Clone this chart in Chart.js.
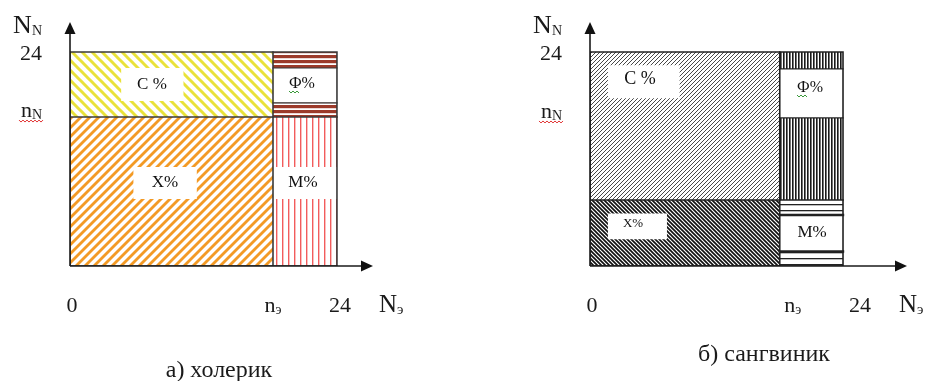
<!DOCTYPE html>
<html><head><meta charset="utf-8">
<script src="https://cdn.jsdelivr.net/npm/chart.js@4"></script>
<style>
html,body{margin:0;padding:0;background:#fff;width:929px;height:381px;overflow:hidden}
canvas{position:absolute;left:0;top:0}
</style></head>
<body>
<canvas id="c1" width="929" height="381"></canvas>
<canvas id="c2" width="929" height="381"></canvas>
<script>
// ---------------- data ----------------
const panelTitles = ['а) холерик', 'б) сангвиник'];
const regionNames = ['С %', 'Х%', 'Ф%', 'М%'];
const axisMaxN = [24, 24];        // N_э = N_N = 24
const nE = [18.25, 18.0];         // n_э (split of the N_э axis)
const splitLeft = [16.7, 7.4];    // С / Х boundary, column 0..n_э
const splitRight = [16.7, 7.4];   // Ф / М boundary, column n_э..24
const nNTick = [16.7, 16.6];      // n_N tick value
const xTickLabels = ['0', 'n|э', '24'];
const yTickLabels = ['24', 'n|N'];
const xAxisTitle = 'N|э';
const yAxisTitle = 'N|N';

// ---------------- layout / style ----------------
function stripe(kind, color, p, w) {
  const c = document.createElement('canvas');
  c.width = p; c.height = p;
  const g = c.getContext('2d');
  g.fillStyle = '#fff'; g.fillRect(0, 0, p, p);
  g.strokeStyle = color; g.fillStyle = color; g.lineWidth = w;
  if (kind === 'down') {
    for (let k = -2; k <= 2; k++) { g.beginPath(); g.moveTo(k*p - p, -p); g.lineTo(k*p + 2*p, 2*p); g.stroke(); }
  } else if (kind === 'up') {
    for (let k = -2; k <= 2; k++) { g.beginPath(); g.moveTo(k*p - p, 2*p); g.lineTo(k*p + 2*p, -p); g.stroke(); }
  } else if (kind === 'vert') {
    g.fillRect(0, 0, w, p);
  } else if (kind === 'horiz') {
    g.fillRect(0, 0, p, w);
  }
  return g.createPattern(c, 'repeat');
}

const panelStyle = [
  {
    pad: {left: 70, top: 22, right: 556, bottom: 115},
    xMax: 27.24, yMax: 27.36,
    fills: [stripe('down', '#e9e23a', 10, 3.0), stripe('up', '#f39a25', 9, 2.8),
            stripe('horiz', '#9c3a2a', 5, 3.2), stripe('vert', '#f25c5c', 6, 1.4)],
    edge: '#3a3a3a',
    boxes: {С: [4.6, 10.2, 18.5, 22.2], Х: [5.7, 11.4, 7.5, 11.1], Ф: [null, null, 18.3, 22.2], М: [null, null, 7.5, 11.1]},
    boxLines: {Ф: 1.2, М: 0},
    text: {С: [7.37, 20.4, 17], Х: [8.54, 9.31, 17], Ф: [20.85, 20.4, 16], М: [20.94, 9.31, 17]},
    xLabOff: [2, 0, 3],
    caption: [219, 377],
    wavyF: [289, 91]
  },
  {
    pad: {left: 590, top: 22, right: 22, bottom: 115},
    xMax: 30.07, yMax: 27.36,
    fills: [stripe('up', '#333', 4, 0.9), stripe('down', '#111', 4, 1.7),
            stripe('vert', '#1a1a1a', 3, 1.6), stripe('horiz', '#222', 6, 1.3)],
    edge: '#222',
    boxes: {С: [1.7, 8.5, 18.8, 22.5], Х: [1.7, 7.3, 3.0, 5.9], Ф: [null, null, 16.6, 22.1], М: [null, null, 1.63, 5.72]},
    boxLines: {Ф: 1.2, М: 2.4},
    text: {С: [4.74, 20.97, 18], Х: [4.08, 4.71, 13], Ф: [20.87, 19.96, 16], М: [21.06, 3.70, 17]},
    xLabOff: [2, 13, 17],
    caption: [764, 361],
    wavyF: [797, 95]
  }
];

function rectPts(x0, x1, y0, y1) {
  return [{x: x0, y: y0}, {x: x1, y: y0}, {x: x1, y: y1}, {x: x0, y: y1}, {x: x0, y: y0}];
}
function fillDs(pts, bg, order) {
  return {data: pts, fill: 'shape', backgroundColor: bg, borderColor: 'rgba(0,0,0,0)', borderWidth: 0, pointRadius: 0, order};
}
function lineDs(pts, color, w, order) {
  return {data: pts, fill: false, borderColor: color, borderWidth: w, pointRadius: 0, order,
          borderCapStyle: 'square', borderJoinStyle: 'miter'};
}

function drawSub(ctx, main, sub, x, y, mSize, sSize, align) {
  ctx.font = mSize + 'px "Liberation Serif", serif';
  const wm = ctx.measureText(main).width;
  ctx.font = sSize + 'px "Liberation Serif", serif';
  const ws = sub ? ctx.measureText(sub).width : 0;
  const total = wm + ws;
  let x0 = x;
  if (align === 'right') x0 = x - total;
  else if (align === 'center') x0 = x - total / 2;
  ctx.textAlign = 'left'; ctx.textBaseline = 'alphabetic';
  ctx.font = mSize + 'px "Liberation Serif", serif';
  ctx.fillText(main, x0, y);
  if (sub) {
    ctx.font = sSize + 'px "Liberation Serif", serif';
    ctx.fillText(sub, x0 + wm, y + 2);
  }
}
function wavy(ctx, x, y, len, color) {
  ctx.save();
  ctx.strokeStyle = color; ctx.lineWidth = 1;
  ctx.beginPath();
  for (let i = 0; i <= len; i += 2) {
    const yy = y + ((i / 2) % 2 === 0 ? 0 : 2);
    if (i === 0) ctx.moveTo(x + i, yy); else ctx.lineTo(x + i, yy);
  }
  ctx.stroke();
  ctx.restore();
}

function buildPanel(idx, canvasId) {
  const st = panelStyle[idx];
  const M = axisMaxN[idx], e = nE[idx], sl = splitLeft[idx], sr = splitRight[idx];
  const ds = [];
  // filled regions
  ds.push(fillDs(rectPts(0, e, sl, M), st.fills[0], 10));   // С
  ds.push(fillDs(rectPts(0, e, 0, sl), st.fills[1], 10));   // Х
  ds.push(fillDs(rectPts(e, M, sr, M), st.fills[2], 10));   // Ф
  ds.push(fillDs(rectPts(e, M, 0, sr), st.fills[3], 10));   // М
  // white label boxes
  for (const k of ['С', 'Х', 'Ф', 'М']) {
    const b = st.boxes[k];
    const x0 = b[0] === null ? e : b[0], x1 = b[1] === null ? M : b[1];
    ds.push(fillDs(rectPts(x0, x1, b[2], b[3]), '#ffffff', 8));
    const lw = st.boxLines[k];
    if (lw) {
      ds.push(lineDs([{x: x0, y: b[2]}, {x: x1, y: b[2]}], st.edge, lw, 2));
      ds.push(lineDs([{x: x0, y: b[3]}, {x: x1, y: b[3]}], st.edge, lw, 2));
    }
  }
  // outlines
  ds.push(lineDs(rectPts(0, M, 0, M), st.edge, 1.6, 1));
  ds.push(lineDs([{x: e, y: 0}, {x: e, y: M}], st.edge, 1.6, 1));
  ds.push(lineDs([{x: 0, y: sl}, {x: e, y: sl}], st.edge, 1.6, 1));
  ds.push(lineDs([{x: e, y: sr}, {x: M, y: sr}], st.edge, 1.6, 1));

  const decor = {
    id: 'decor' + idx,
    afterDraw(chart) {
      const ctx = chart.ctx, xs = chart.scales.x, ys = chart.scales.y;
      const ox = xs.getPixelForValue(0), oy = ys.getPixelForValue(0);
      const xEnd = xs.getPixelForValue(st.xMax), yEnd = ys.getPixelForValue(st.yMax);
      ctx.save();
      // axes
      ctx.strokeStyle = '#1a1a1a'; ctx.lineWidth = 1.6;
      ctx.beginPath(); ctx.moveTo(ox, oy); ctx.lineTo(xEnd - 6, oy); ctx.stroke();
      ctx.beginPath(); ctx.moveTo(ox, oy); ctx.lineTo(ox, yEnd + 6); ctx.stroke();
      ctx.fillStyle = '#111';
      ctx.beginPath(); ctx.moveTo(xEnd, oy); ctx.lineTo(xEnd - 12, oy - 5.5); ctx.lineTo(xEnd - 12, oy + 5.5); ctx.closePath(); ctx.fill();
      ctx.beginPath(); ctx.moveTo(ox, yEnd); ctx.lineTo(ox - 5.5, yEnd + 12); ctx.lineTo(ox + 5.5, yEnd + 12); ctx.closePath(); ctx.fill();

      ctx.fillStyle = '#1a1a1a';
      // x tick labels
      const xVals = [0, e, M];
      xTickLabels.forEach((lab, i) => {
        const [m, s] = lab.split('|');
        const px = xs.getPixelForValue(xVals[i]) + st.xLabOff[i];
        drawSub(ctx, m, s, px, oy + 46, 22, 14, 'center');
      });
      // x axis title
      const [xm, xsub] = xAxisTitle.split('|');
      drawSub(ctx, xm, xsub, ox + 309, oy + 46, 25, 15, 'left');
      // y tick labels
      const yVals = [M, nNTick[idx]];
      yTickLabels.forEach((lab, i) => {
        const [m, s] = lab.split('|');
        const py = ys.getPixelForValue(yVals[i]);
        drawSub(ctx, m, s, ox - 28, i === 0 ? py + 8 : py, 22, 14, 'right');
      });
      wavy(ctx, ox - 51, ys.getPixelForValue(nNTick[idx]) + 3, 24, '#e03030');
      // y axis title
      const [ym, ysub] = yAxisTitle.split('|');
      drawSub(ctx, ym, ysub, ox - 28, 33, 26, 14, 'right');
      // region labels
      ctx.fillStyle = '#111';
      regionNames.forEach((name) => {
        const key = name[0];
        const t = st.text[key];
        ctx.font = t[2] + 'px "Liberation Serif", serif';
        ctx.textAlign = 'center'; ctx.textBaseline = 'middle';
        ctx.fillText(name, xs.getPixelForValue(t[0]), ys.getPixelForValue(t[1]));
      });
      wavy(ctx, st.wavyF[0], st.wavyF[1], 11, '#3a9a3a');
      // caption
      ctx.fillStyle = '#1a1a1a';
      ctx.font = '24px "Liberation Serif", serif';
      ctx.textAlign = 'center'; ctx.textBaseline = 'alphabetic';
      ctx.fillText(panelTitles[idx], st.caption[0], st.caption[1]);
      ctx.restore();
    }
  };

  return new Chart(document.getElementById(canvasId), {
    type: 'line',
    data: {datasets: ds},
    options: {
      responsive: false, animation: false, events: [],
      layout: {padding: st.pad},
      elements: {line: {tension: 0}},
      plugins: {legend: {display: false}, tooltip: {enabled: false}},
      scales: {
        x: {type: 'linear', min: 0, max: st.xMax, display: false},
        y: {type: 'linear', min: 0, max: st.yMax, display: false}
      }
    },
    plugins: [decor]
  });
}

buildPanel(0, 'c1');
buildPanel(1, 'c2');
</script>
</body></html>
